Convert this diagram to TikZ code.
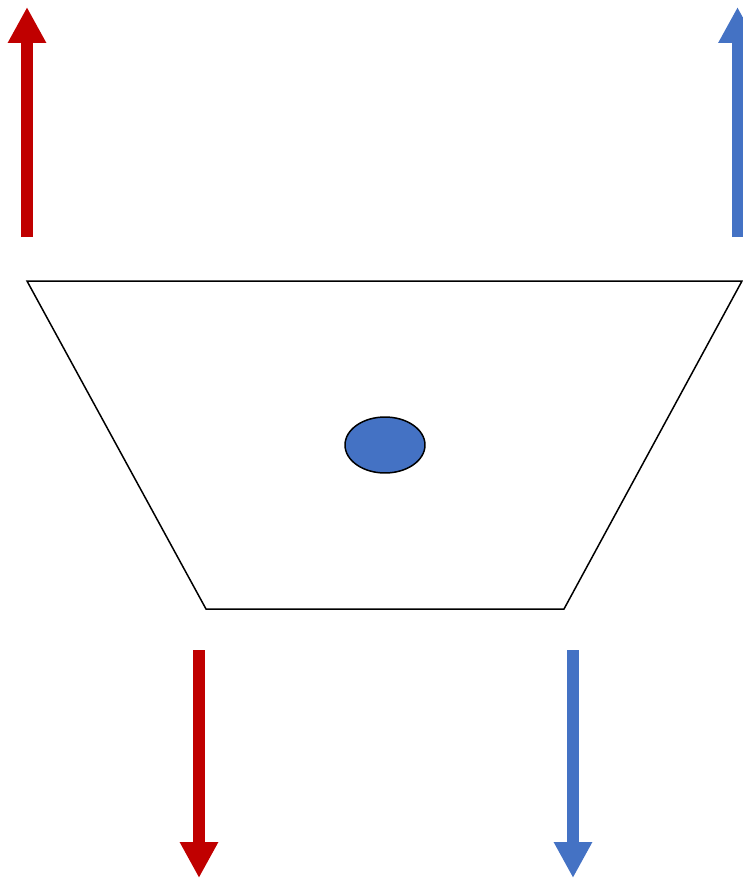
\documentclass[tikz,border=0pt]{standalone}
\usepackage{tikz}
\usetikzlibrary{arrows.meta,shapes.geometric}

\definecolor{hotred}{HTML}{C00000}
\definecolor{coldblue}{HTML}{4472C4}

\tikzset{
  flow/.style={line width=6.3pt, -{Triangle[width=20.4pt,length=20.4pt]}},
}

\begin{document}
\begin{tikzpicture}[x=0.02cm,y=-0.02cm]
  \useasboundingbox (0,0) rectangle (743,879);

  \coordinate (hA) at (27,237);
  \coordinate (hB) at (27,7);
  \coordinate (cA) at (737.5,237);
  \coordinate (cB) at (737.5,7);
  \coordinate (hC) at (199,650);
  \coordinate (hD) at (199,878);
  \coordinate (cC) at (573,650);
  \coordinate (cD) at (573,878);

  % body
  \draw[line width=0.85pt] (27,281) -- (742,281) -- (564,609) -- (206,609) -- cycle;
  \node[draw, line width=0.85pt, fill=coldblue, ellipse, minimum width=1.6cm, minimum height=1.12cm, inner sep=0pt] (dot) at (385,445) {};

  \draw[flow, hotred] (hA) -- (hB);
  \draw[flow, coldblue] (cA) -- (cB);
  \draw[flow, hotred] (hC) -- (hD);
  \draw[flow, coldblue] (cC) -- (cD);
\end{tikzpicture}
\end{document}
